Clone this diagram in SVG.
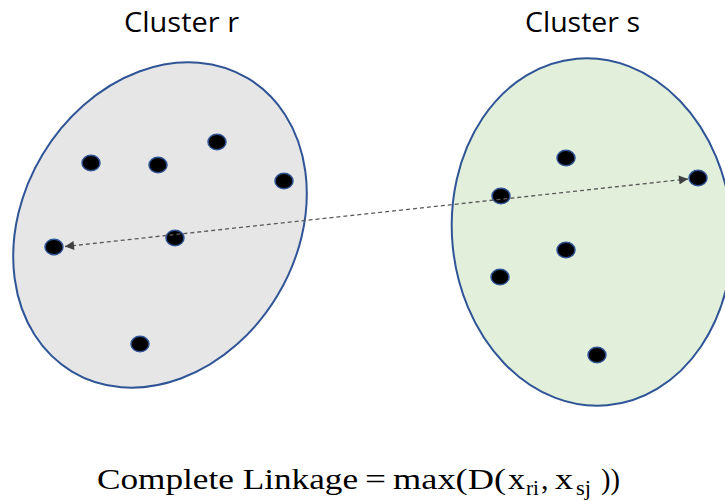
<svg xmlns="http://www.w3.org/2000/svg" width="725" height="501" viewBox="0 0 725 501">
<defs>
<style>
.title{font-family:"Open Sans","Liberation Sans",sans-serif;font-size:27px;fill:#000}
.f{font-family:"Liberation Serif","DejaVu Serif",serif;font-size:30px;fill:#000}
.fs{font-family:"Liberation Serif","DejaVu Serif",serif;font-size:21px;fill:#000}
.cl{stroke:#2F5597;stroke-width:2}
.pt{fill:#000;stroke:#2F5597;stroke-width:1.5}
.link{stroke:#595959;stroke-width:1.3;stroke-dasharray:4 3;fill:none}
</style>
<marker id="ah" viewBox="0 0 10 10" refX="10" refY="5" markerWidth="11" markerHeight="9" markerUnits="userSpaceOnUse" orient="auto-start-reverse">
<path d="M0,0 L10,5 L0,10 Z" fill="#404040"/>
</marker>
</defs>
<g id="cluster-r">
<ellipse class="cl" cx="160" cy="225" rx="137" ry="171" transform="rotate(31 160 225)" fill="#E6E6E6"/>
<text class="title" x="124" y="32" textLength="115" lengthAdjust="spacingAndGlyphs">Cluster r</text>
</g>
<g id="cluster-s">
<ellipse class="cl" cx="592" cy="232" rx="140" ry="174" transform="rotate(-5 592 232)" fill="#E2EFDA"/>
<text class="title" x="525" y="32" textLength="115" lengthAdjust="spacingAndGlyphs">Cluster s</text>
</g>
<g id="points-r">
<ellipse class="pt" cx="91" cy="163" rx="9" ry="7.8"/>
<ellipse class="pt" cx="158" cy="165" rx="9" ry="7.8"/>
<ellipse class="pt" cx="217" cy="142" rx="9" ry="7.8"/>
<ellipse class="pt" cx="284" cy="181" rx="9" ry="7.8"/>
<ellipse class="pt" cx="175" cy="238" rx="9" ry="7.8"/>
<ellipse class="pt" cx="54" cy="247" rx="9" ry="7.8"/>
<ellipse class="pt" cx="140" cy="344" rx="9" ry="7.8"/>
</g>
<g id="points-s">
<ellipse class="pt" cx="566" cy="158" rx="9" ry="7.8"/>
<ellipse class="pt" cx="501" cy="196" rx="9" ry="7.8"/>
<ellipse class="pt" cx="698" cy="178" rx="9" ry="7.8"/>
<ellipse class="pt" cx="566" cy="250" rx="9" ry="7.8"/>
<ellipse class="pt" cx="500" cy="277" rx="9" ry="7.8"/>
<ellipse class="pt" cx="597" cy="355" rx="9" ry="7.8"/>
</g>
<g id="connectors">
<line class="link" x1="65" y1="246.5" x2="688" y2="179" marker-start="url(#ah)" marker-end="url(#ah)"/>
</g>
<g id="formula">
<text class="f" x="97" y="489" textLength="261" lengthAdjust="spacingAndGlyphs">Complete Linkage</text>
<text class="f" x="365" y="489" textLength="21" lengthAdjust="spacingAndGlyphs">=</text>
<text class="f" x="393" y="489" textLength="113" lengthAdjust="spacingAndGlyphs">max(D(</text>
<text class="f" x="508" y="489" textLength="17" lengthAdjust="spacingAndGlyphs">x</text>
<text class="fs" x="526" y="495" textLength="13" lengthAdjust="spacingAndGlyphs">ri</text>
<text class="f" x="541" y="489">,</text>
<text class="f" x="555" y="489" textLength="18" lengthAdjust="spacingAndGlyphs">x</text>
<text class="fs" x="576" y="495" textLength="15" lengthAdjust="spacingAndGlyphs">sj</text>
<text class="f" x="601" y="489" textLength="19" lengthAdjust="spacingAndGlyphs">))</text>
</g>
</svg>
